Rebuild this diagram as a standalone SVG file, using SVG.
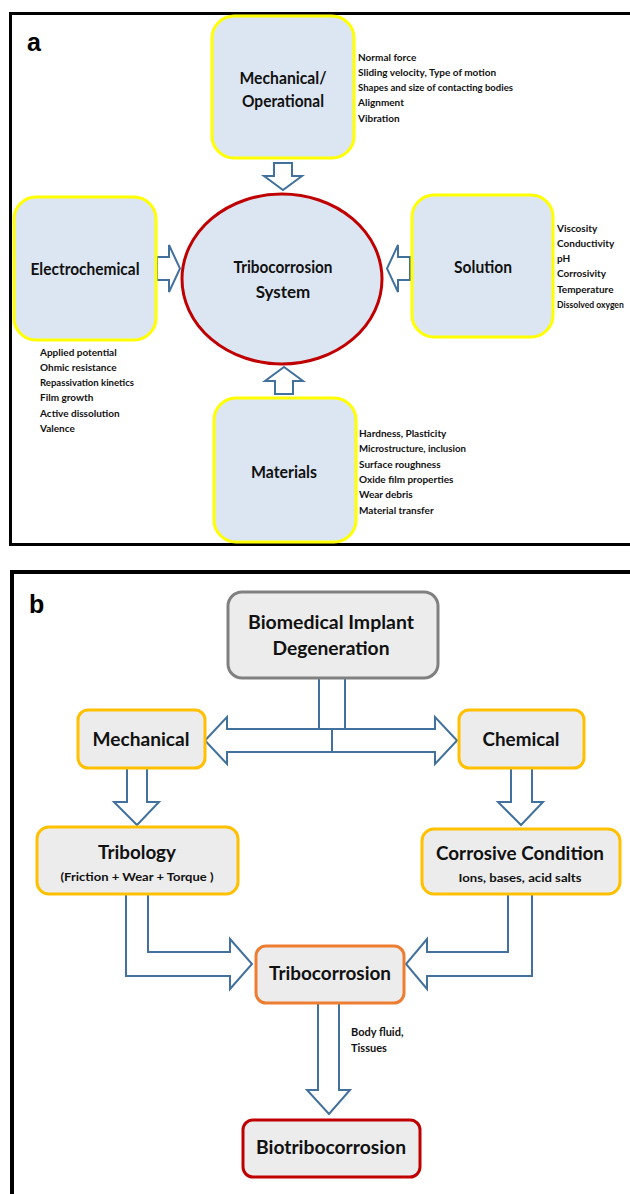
<svg xmlns="http://www.w3.org/2000/svg" width="630" height="1194" viewBox="0 0 630 1194">
<style>
.panel{fill:none;stroke:#000;stroke-width:3}
.abox{fill:#dce6f2;stroke:#ffff00;stroke-width:3}
.bbox{fill:#ececec;stroke-width:3}
.arr{fill:#fff;stroke:#41719c;stroke-width:2;stroke-linejoin:miter}
.lbl{font-family:Lato,"Liberation Sans",sans-serif;fill:#111}
.ta{font-size:17px;font-weight:700;text-anchor:middle}
.li{font-size:10px;font-weight:700}
.tb{font-size:18px;font-weight:700;text-anchor:middle}
.pl{font-family:"Liberation Sans",Arial,sans-serif;font-weight:700;font-size:25px;fill:#000}
</style>
<rect x="0" y="0" width="630" height="1194" fill="#fff"/>
<!-- Panel a -->
<rect class="panel" x="10.5" y="13.5" width="640" height="531"/>
<text class="pl" x="27" y="51">a</text>
<g id="connectors-a">
<path class="arr" d="M274,163 H292 V176 H302 L283,190 L264,176 H274 Z"/>
<path class="arr" d="M275,394 H293 V381 H303 L284,367 L265,381 H275 Z"/>
<path class="arr" d="M157,257 H169 V245 L180,268.5 L169,292 V280 H157 Z"/>
<path class="arr" d="M410,257 H398 V245 L387,268.5 L398,292 V280 H410 Z"/>
</g>
<g id="mechanical-operational">
<rect class="abox" x="212" y="16" width="142" height="142" rx="22"/>
<text class="lbl ta" x="283" y="84" textLength="87" lengthAdjust="spacingAndGlyphs">Mechanical/</text>
<text class="lbl ta" x="283" y="107" textLength="82" lengthAdjust="spacingAndGlyphs">Operational</text>
<g class="lbl li">
<text x="358" y="61">Normal force</text>
<text x="358" y="76">Sliding velocity, Type of motion</text>
<text x="358" y="91" textLength="155" lengthAdjust="spacingAndGlyphs">Shapes and size of contacting bodies</text>
<text x="358" y="106">Alignment</text>
<text x="358" y="122">Vibration</text>
</g>
</g>
<g id="electrochemical">
<rect class="abox" x="14" y="197" width="142" height="143" rx="22"/>
<text class="lbl ta" x="85" y="275" textLength="109" lengthAdjust="spacingAndGlyphs">Electrochemical</text>
<g class="lbl li">
<text x="40" y="356">Applied potential</text>
<text x="40" y="371">Ohmic resistance</text>
<text x="40" y="386" textLength="94" lengthAdjust="spacingAndGlyphs">Repassivation kinetics</text>
<text x="40" y="401">Film growth</text>
<text x="40" y="417">Active dissolution</text>
<text x="40" y="432">Valence</text>
</g>
</g>
<g id="tribocorrosion-system">
<ellipse cx="282" cy="279" rx="100" ry="85" fill="#dce6f2" stroke="#c00000" stroke-width="3"/>
<text class="lbl ta" x="283" y="273" textLength="99" lengthAdjust="spacingAndGlyphs">Tribocorrosion</text>
<text class="lbl ta" x="283" y="298">System</text>
</g>
<g id="solution">
<rect class="abox" x="412" y="195" width="141" height="142" rx="22"/>
<text class="lbl ta" x="483" y="273" textLength="58" lengthAdjust="spacingAndGlyphs">Solution</text>
<g class="lbl li">
<text x="557" y="232">Viscosity</text>
<text x="557" y="247">Conductivity</text>
<text x="557" y="262">pH</text>
<text x="557" y="277">Corrosivity</text>
<text x="557" y="293">Temperature</text>
<text x="557" y="308" font-size="8.6">Dissolved oxygen</text>
</g>
</g>
<g id="materials">
<rect class="abox" x="214" y="398" width="142" height="144" rx="22"/>
<text class="lbl ta" x="284" y="478" textLength="66" lengthAdjust="spacingAndGlyphs">Materials</text>
<g class="lbl li">
<text x="359" y="437">Hardness, Plasticity</text>
<text x="359" y="452" textLength="107" lengthAdjust="spacingAndGlyphs">Microstructure, inclusion</text>
<text x="359" y="468">Surface roughness</text>
<text x="359" y="483">Oxide film properties</text>
<text x="359" y="498">Wear debris</text>
<text x="359" y="514">Material transfer</text>
</g>
</g>
<!-- Panel b -->
<rect x="12" y="572" width="640" height="640" fill="none" stroke="#000" stroke-width="4"/>
<text class="pl" x="29" y="613">b</text>
<g id="connectors-b">
<path class="arr" d="M205,740.5 L227,717 V729 H435 V717 L457,740.5 L435,764 V752 H227 V764 Z"/>
<rect class="arr" x="319" y="678" width="26" height="51"/>
<line x1="332" y1="729" x2="332" y2="752" stroke="#41719c" stroke-width="2"/>
<path class="arr" d="M127,768 V802 H114 L137,825 L159,802 H147 V768"/>
<path class="arr" d="M511,768 V802 H498 L521,825 L543,802 H532 V768"/>
<path class="arr" d="M126,894 V976 H230 V989 L252,964 L230,939 V952 H148 V894"/>
<path class="arr" d="M532,894 V976 H427 V989 L406,964 L427,939 V952 H508 V894"/>
<path class="arr" d="M318,1003 V1090 H307 L329,1114 L350,1090 H339 V1003"/>
<g class="lbl" font-size="11" font-weight="700">
<text x="351" y="1036">Body fluid,</text>
<text x="351" y="1052">Tissues</text>
</g>
</g>
<g id="biomedical-implant-degeneration">
<rect class="bbox" x="228" y="592" width="210" height="86" rx="14" stroke="#808080"/>
<text class="lbl tb" x="331" y="629" textLength="166" lengthAdjust="spacingAndGlyphs">Biomedical Implant</text>
<text class="lbl tb" x="331" y="655" textLength="117" lengthAdjust="spacingAndGlyphs">Degeneration</text>
</g>
<g id="mechanical">
<rect class="bbox" x="78" y="710" width="127" height="58" rx="10" stroke="#ffc000"/>
<text class="lbl tb" x="141" y="746" textLength="97" lengthAdjust="spacingAndGlyphs">Mechanical</text>
</g>
<g id="chemical">
<rect class="bbox" x="459" y="710" width="125" height="58" rx="10" stroke="#ffc000"/>
<text class="lbl tb" x="521" y="746" textLength="77" lengthAdjust="spacingAndGlyphs">Chemical</text>
</g>
<g id="tribology">
<rect class="bbox" x="37" y="827" width="201" height="67" rx="12" stroke="#ffc000"/>
<text class="lbl tb" x="137" y="859" textLength="78" lengthAdjust="spacingAndGlyphs">Tribology</text>
<text class="lbl" x="137" y="881" font-size="12" font-weight="700" text-anchor="middle" textLength="153" lengthAdjust="spacingAndGlyphs">(Friction + Wear + Torque )</text>
</g>
<g id="corrosive-condition">
<rect class="bbox" x="422" y="829" width="198" height="65" rx="12" stroke="#ffc000"/>
<text class="lbl tb" x="520" y="860" textLength="168" lengthAdjust="spacingAndGlyphs">Corrosive Condition</text>
<text class="lbl" x="520" y="882" font-size="12" font-weight="700" text-anchor="middle" textLength="123" lengthAdjust="spacingAndGlyphs">Ions, bases, acid salts</text>
</g>
<g id="tribocorrosion">
<rect class="bbox" x="256" y="946" width="148" height="57" rx="10" stroke="#ed7d31"/>
<text class="lbl tb" x="330" y="980" textLength="122" lengthAdjust="spacingAndGlyphs">Tribocorrosion</text>
</g>
<g id="biotribocorrosion">
<rect class="bbox" x="243" y="1120" width="177" height="57" rx="10" stroke="#c00000"/>
<text class="lbl tb" x="331" y="1154" textLength="150" lengthAdjust="spacingAndGlyphs">Biotribocorrosion</text>
</g>
</svg>
